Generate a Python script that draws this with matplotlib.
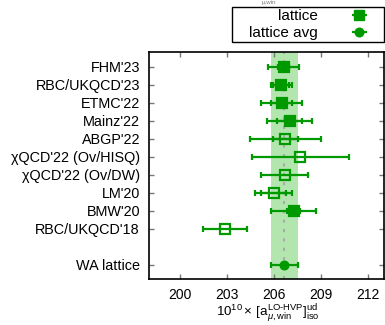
import matplotlib
matplotlib.use("Agg")
import matplotlib.pyplot as plt
from matplotlib.patches import Rectangle
import numpy as np

plt.rcParams['font.family'] = ['Liberation Sans', 'DejaVu Sans']
plt.rcParams['mathtext.fontset'] = 'custom'
plt.rcParams['mathtext.rm'] = 'Liberation Sans'
plt.rcParams['mathtext.it'] = 'Liberation Sans:italic'

labels = ["FHM'23", "RBC/UKQCD'23", "ETMC'22", "Mainz'22", "ABGP'22",
          "χQCD'22 (Ov/HISQ)", "χQCD'22 (Ov/DW)", "LM'20", "BMW'20",
          "RBC/UKQCD'18"]
values = [206.6, 206.46, 206.47, 206.98, 206.72, 207.68, 206.66, 205.97, 207.24, 202.87]
err_tot = [1.01, 0.69, 1.33, 1.46, 2.27, 3.10, 1.51, 1.20, 1.42, 1.40]
err_stat = [0.37, 0.51, 0.70, 0.83, 0.80, None, None, 0.80, 0.40, None]
filled = [True, True, True, True, False, False, False, False, True, False]
wa_label = "WA lattice"
wa_value = 206.65
wa_err = 0.85
xticks = [200, 203, 206, 209, 212]

green = '#009a00'
band = '#b3e6ae'

fig = plt.figure(figsize=(3.85, 3.25), dpi=100)
ax = fig.add_axes([149/385, 1-279.3/325, (384-149.3)/385, (279.3-52.3)/325])

ax.axvspan(wa_value - wa_err, wa_value + wa_err, color=band, lw=0, zorder=0)
ax.axvline(wa_value, color='#aaaaaa', ls=(0, (1.5, 3)), lw=1.5, zorder=1)

ypos = list(range(len(labels)))
for i, (v, et, es, f) in enumerate(zip(values, err_tot, err_stat, filled)):
    ax.errorbar(v, ypos[i], xerr=et, fmt='none', ecolor=green, elinewidth=1.6,
                capsize=2.2, capthick=1.6, zorder=3)
    if es is not None:
        ax.errorbar(v, ypos[i], xerr=es, fmt='none', ecolor=green, elinewidth=1.6,
                    capsize=2.2, capthick=1.6, zorder=3)
    ax.plot(v, ypos[i], marker='s', ms=6.8, color=green,
            mfc=green if f else 'none', mec=green, mew=1.6, ls='none', zorder=4)

wa_y = len(labels) + 1
ax.errorbar(wa_value, wa_y, xerr=wa_err, fmt='none', ecolor=green, elinewidth=1.6,
            capsize=2.2, capthick=1.6, zorder=3)
ax.plot(wa_value, wa_y, marker='o', ms=6.2, color=green, ls='none', zorder=4)

ax.set_xlim(198, 213)
ax.set_ylim(11.8, -0.8)
ax.set_xticks(xticks)
ax.set_xticklabels([str(t) for t in xticks])
ax.set_yticks(ypos + [wa_y])
ax.set_yticklabels(labels + [wa_label])
ax.tick_params(axis='both', which='major', direction='in', length=3.5, width=1,
               color='#777777', labelsize=10.4, top=True, right=True)
ax.tick_params(axis='y', pad=6.5)
ax.tick_params(axis='x', pad=6.0, labelsize=10.0)
for s in ax.spines.values():
    s.set_linewidth(1.2)
    s.set_color('black')

fig.text(268/385, 0.5/325,
         r'$10^{10}\times\,[\mathrm{a}_{\mu,\mathrm{win}}^{\mathrm{LO\text{-}HVP}}]_{\mathrm{iso}}^{\mathrm{ud}}$',
         fontsize=9.6, ha='center', va='bottom')

# legend (gnuplot style: fixed box, text right-aligned, sample on right)
fig.patches.append(Rectangle((232/385, 1-42/325), (384-232)/385, 35/325,
                             transform=fig.transFigure, fill=False,
                             edgecolor='black', lw=1.0, zorder=5))
h1 = ax.errorbar([], [], xerr=[], fmt='s', color=green, ms=6.8, elinewidth=1.6,
                 capsize=2.2, capthick=1.6)
h2 = ax.errorbar([], [], xerr=[], fmt='o', color=green, ms=6.2, elinewidth=1.6,
                 capsize=2.2, capthick=1.6)
leg = fig.legend([h1, h2], ['lattice', 'lattice avg'], loc='upper right',
                 bbox_to_anchor=(383/385, 1-6/325), bbox_transform=fig.transFigure,
                 borderaxespad=0, markerfirst=False, fontsize=11, frameon=False,
                 handlelength=2.7, labelspacing=0.2, borderpad=0.2,
                 handletextpad=1.35)

fig.text(262/385, 1.0, 'μ,win', va='top', ha='left', fontsize=4.5, color='#777777')

fig.savefig('out.png', dpi=100)
